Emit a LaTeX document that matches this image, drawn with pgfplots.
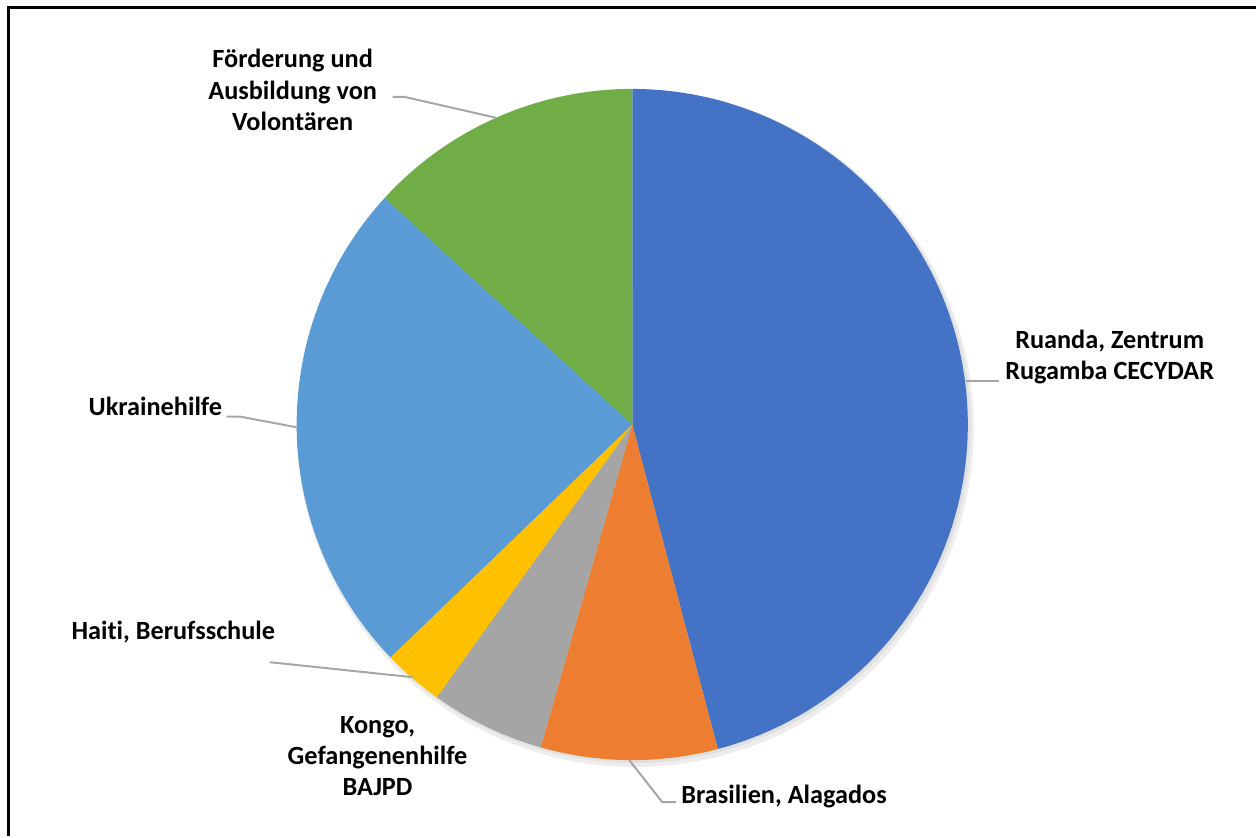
\documentclass[border=0pt]{standalone}
\usepackage{pgfplots}
\usepackage{pgfplotstable}
\pgfplotsset{compat=1.18}
\usepackage{fontspec}
\setmainfont{Carlito}[Ligatures=NoCommon]

\definecolor{c0}{HTML}{4472C4}
\definecolor{c1}{HTML}{ED7D31}
\definecolor{c2}{HTML}{A5A5A5}
\definecolor{c3}{HTML}{FFC000}
\definecolor{c4}{HTML}{5B9BD5}
\definecolor{c5}{HTML}{70AD47}
\definecolor{leader}{HTML}{A6A6A6}

\tikzset{lbl/.style={font=\bfseries\fontsize{13.2}{15.6}\selectfont, align=center, text=black, inner sep=0pt}}

% shares in percent, clockwise from 12 o'clock
\pgfplotstableread{
label share
Ruanda 45.9
Brasilien 8.5
Kongo 5.5
Haiti 2.9
Ukraine 24.0
Foerderung 13.2
}\pietable

% cumulative start/end angles
\def\cum{0}
\pgfplotsforeachungrouped \i in {0,...,5}{%
  \pgfplotstablegetelem{\i}{share}\of\pietable
  \pgfmathsetmacro\nxt{\cum+3.6*\pgfplotsretval}%
  \expandafter\xdef\csname a\i\endcsname{\cum}%
  \expandafter\xdef\csname b\i\endcsname{\nxt}%
  \xdef\cum{\nxt}%
}

\begin{document}
\begin{tikzpicture}
\begin{axis}[
    width=628.5bp, height=418.5bp, scale only axis,
    xmin=0, xmax=1257, ymin=0, ymax=837,
    y dir=reverse,
    hide axis, clip=false
]
% soft shadow
\addplot[fill=black, opacity=0.07, draw=none, domain=0:360, samples=120, variable=\t]
  ({636+339*sin(\t)}, {429-339*cos(\t)}) -- cycle;
\addplot[fill=black, opacity=0.05, draw=none, domain=0:360, samples=120, variable=\t]
  ({635+337*sin(\t)}, {427-337*cos(\t)}) -- cycle;

\pgfplotsinvokeforeach{0,...,5}{
  \addplot[fill=c#1, draw=none, domain=\csname a#1\endcsname:\csname b#1\endcsname,
           samples=90, variable=\t]
    ({633+336*sin(\t)}, {425-336*cos(\t)}) -- (axis cs:633,425) -- cycle;
}

% leader lines
\draw[leader, line width=1bp] (axis cs:967,381) -- (axis cs:1000,381);
\draw[leader, line width=1bp] (axis cs:393,97) -- (axis cs:405,97) -- (axis cs:497,118);
\draw[leader, line width=1bp] (axis cs:227,417) -- (axis cs:240,417) -- (axis cs:298,428);
\draw[leader, line width=1bp] (axis cs:270,663) -- (axis cs:280,664) -- (axis cs:413,678);
\draw[leader, line width=1bp] (axis cs:677,803) -- (axis cs:663,803) -- (axis cs:630,761);

% labels
\node[lbl] at (axis cs:293,90) {Förderung und\\Ausbildung von\\Volontären};
\node[lbl] at (axis cs:1111,357) {Ruanda, Zentrum\\Rugamba CECYDAR};
\node[lbl] at (axis cs:155.5,407) {Ukrainehilfe};
\node[lbl] at (axis cs:173.5,633) {Haiti, Berufsschule};
\node[lbl] at (axis cs:378,757) {Kongo,\\Gefangenenhilfe\\BAJPD};
\node[lbl] at (axis cs:785,797) {Brasilien, Alagados};

% chart frame (runs off the right and bottom edges)
\draw[black, line width=1.5bp] (axis cs:9,837) -- (axis cs:9,8) -- (axis cs:1257,8);
\path (axis cs:0,0) (axis cs:1257,837);
\end{axis}
\end{tikzpicture}
\end{document}
